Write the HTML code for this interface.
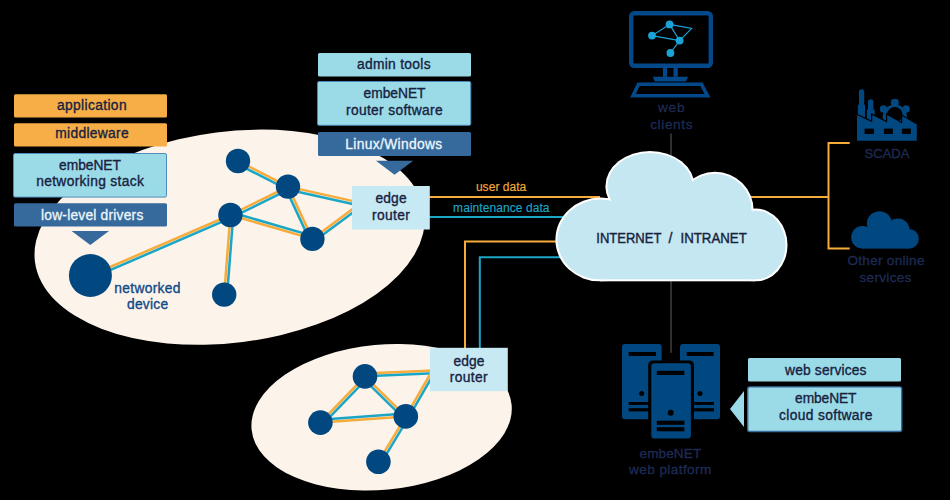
<!DOCTYPE html>
<html><head><meta charset="utf-8"><style>html,body{margin:0;padding:0;background:#000;width:950px;height:500px;overflow:hidden}svg{display:block}</style></head>
<body><svg width="950" height="500" viewBox="0 0 950 500">
<rect width="950" height="500" fill="#000"/>
<ellipse cx="229.6" cy="237.2" rx="196.2" ry="105.6" transform="rotate(-7.19 229.6 237.2)" fill="#fcf3ea"/>
<ellipse cx="381.6" cy="417.2" rx="130.6" ry="72.6" transform="rotate(-5.43 381.6 417.2)" fill="#fcf3ea"/>
<path d="M420 197 H600" stroke="#f6ab3b" stroke-width="2" fill="none"/>
<path d="M420 217 H600" stroke="#1ba6c6" stroke-width="2" fill="none"/>
<path d="M465 360 V241.5 H600" stroke="#f6ab3b" stroke-width="2" fill="none"/>
<path d="M479.8 360 V257.2 H600" stroke="#1ba6c6" stroke-width="2" fill="none"/>
<path d="M740 197 H828.5 M828.5 143 V248.6 M827.5 143 H849.7 M827.5 248.6 H849.7" stroke="#f6ab3b" stroke-width="2" fill="none"/>
<path d="M671 133.5 V352.8" stroke="#4a4a4a" stroke-width="1.3"/>
<text x="501.10" y="190.9" text-anchor="middle" textLength="50.40" lengthAdjust="spacing" font-family="'Liberation Sans', sans-serif" font-size="12" fill="#f6ab3b" stroke="#f6ab3b" stroke-width="0.15">user data</text>
<text x="501.30" y="211.8" text-anchor="middle" textLength="96.40" lengthAdjust="spacing" font-family="'Liberation Sans', sans-serif" font-size="12" fill="#1ba6c6" stroke="#1ba6c6" stroke-width="0.15">maintenance data</text>
<line x1="90.40" y1="275.50" x2="230.40" y2="215.00" stroke="#f6ab3b" stroke-width="2.5"/><line x1="91.55" y1="278.16" x2="231.55" y2="217.66" stroke="#1ba6c6" stroke-width="2.5"/>
<line x1="230.40" y1="215.00" x2="288.00" y2="186.60" stroke="#f6ab3b" stroke-width="2.5"/><line x1="231.68" y1="217.60" x2="289.28" y2="189.20" stroke="#1ba6c6" stroke-width="2.5"/>
<line x1="238.00" y1="161.00" x2="288.00" y2="186.60" stroke="#f6ab3b" stroke-width="2.5"/><line x1="236.68" y1="163.58" x2="286.68" y2="189.18" stroke="#1ba6c6" stroke-width="2.5"/>
<line x1="230.40" y1="215.00" x2="312.40" y2="238.90" stroke="#f6ab3b" stroke-width="2.5"/><line x1="231.21" y1="212.22" x2="313.21" y2="236.12" stroke="#1ba6c6" stroke-width="2.5"/>
<line x1="288.00" y1="186.60" x2="312.40" y2="238.90" stroke="#f6ab3b" stroke-width="2.5"/><line x1="285.37" y1="187.83" x2="309.77" y2="240.13" stroke="#1ba6c6" stroke-width="2.5"/>
<line x1="230.40" y1="215.00" x2="224.20" y2="294.60" stroke="#f6ab3b" stroke-width="2.5"/><line x1="233.29" y1="215.23" x2="227.09" y2="294.83" stroke="#1ba6c6" stroke-width="2.5"/>
<line x1="288.00" y1="186.60" x2="360.00" y2="202.60" stroke="#f6ab3b" stroke-width="2.5"/><line x1="287.37" y1="189.43" x2="359.37" y2="205.43" stroke="#1ba6c6" stroke-width="2.5"/>
<line x1="312.40" y1="238.90" x2="360.00" y2="203.60" stroke="#f6ab3b" stroke-width="2.5"/><line x1="314.13" y1="241.23" x2="361.73" y2="205.93" stroke="#1ba6c6" stroke-width="2.5"/>
<line x1="365.00" y1="373.40" x2="440.00" y2="370.20" stroke="#f6ab3b" stroke-width="2.5"/><line x1="365.12" y1="376.30" x2="440.12" y2="373.10" stroke="#1ba6c6" stroke-width="2.5"/>
<line x1="405.80" y1="416.40" x2="435.00" y2="366.00" stroke="#f6ab3b" stroke-width="2.5"/><line x1="408.31" y1="417.85" x2="437.51" y2="367.45" stroke="#1ba6c6" stroke-width="2.5"/>
<line x1="365.00" y1="376.40" x2="320.40" y2="422.60" stroke="#f6ab3b" stroke-width="2.5"/><line x1="367.09" y1="378.41" x2="322.49" y2="424.61" stroke="#1ba6c6" stroke-width="2.5"/>
<line x1="365.00" y1="376.40" x2="405.80" y2="416.40" stroke="#f6ab3b" stroke-width="2.5"/><line x1="362.97" y1="378.47" x2="403.77" y2="418.47" stroke="#1ba6c6" stroke-width="2.5"/>
<line x1="320.40" y1="422.60" x2="405.80" y2="416.40" stroke="#f6ab3b" stroke-width="2.5"/><line x1="320.19" y1="419.71" x2="405.59" y2="413.51" stroke="#1ba6c6" stroke-width="2.5"/>
<line x1="405.80" y1="416.40" x2="378.40" y2="461.80" stroke="#f6ab3b" stroke-width="2.5"/><line x1="408.28" y1="417.90" x2="380.88" y2="463.30" stroke="#1ba6c6" stroke-width="2.5"/>
<circle cx="238" cy="161" r="12.2" fill="#014880"/><circle cx="288" cy="186.6" r="12.2" fill="#014880"/><circle cx="230.4" cy="215" r="12.2" fill="#014880"/><circle cx="312.4" cy="238.9" r="12.2" fill="#014880"/><circle cx="224.2" cy="294.6" r="12.2" fill="#014880"/>
<circle cx="365" cy="376.4" r="12.3" fill="#014880"/><circle cx="320.4" cy="422.6" r="12.3" fill="#014880"/><circle cx="405.8" cy="416.4" r="12.3" fill="#014880"/><circle cx="378.4" cy="461.8" r="12.3" fill="#014880"/>
<circle cx="90.4" cy="275.5" r="21.5" fill="#014880"/>
<text x="147.40" y="292.7" text-anchor="middle" textLength="66.20" lengthAdjust="spacing" font-family="'Liberation Sans', sans-serif" font-size="13.8" fill="#0f4a87" stroke="#0f4a87" stroke-width="0.35">networked</text>
<text x="147.55" y="309.2" text-anchor="middle" textLength="41.10" lengthAdjust="spacing" font-family="'Liberation Sans', sans-serif" font-size="13.8" fill="#0f4a87" stroke="#0f4a87" stroke-width="0.35">device</text>
<rect x="14" y="94.2" width="153" height="23.2" rx="1.5" fill="#f8ae46"/>
<text x="91.75" y="109.6" text-anchor="middle" textLength="69.70" lengthAdjust="spacing" font-family="'Liberation Sans', sans-serif" font-size="13.8" fill="#17223f" stroke="#17223f" stroke-width="0.35">application</text>
<rect x="14" y="123.3" width="153" height="23.1" rx="1.5" fill="#f8ae46"/>
<text x="92.00" y="138" text-anchor="middle" textLength="73.40" lengthAdjust="spacing" font-family="'Liberation Sans', sans-serif" font-size="13.8" fill="#17223f" stroke="#17223f" stroke-width="0.35">middleware</text>
<rect x="13.5" y="153.5" width="153" height="43.6" rx="1.5" fill="#9bdbe8" stroke="#4f8bbb" stroke-width="1"/>
<text x="90.00" y="169.7" text-anchor="middle" textLength="61.80" lengthAdjust="spacing" font-family="'Liberation Sans', sans-serif" font-size="13.8" fill="#17223f" stroke="#17223f" stroke-width="0.35">embeNET</text>
<text x="90.00" y="186" text-anchor="middle" textLength="107.60" lengthAdjust="spacing" font-family="'Liberation Sans', sans-serif" font-size="13.8" fill="#17223f" stroke="#17223f" stroke-width="0.35">networking stack</text>
<rect x="14" y="203.2" width="153" height="23.4" rx="1.5" fill="#366a9c"/>
<text x="92.15" y="219.6" text-anchor="middle" textLength="102.30" lengthAdjust="spacing" font-family="'Liberation Sans', sans-serif" font-size="13.8" fill="#eef6fb" stroke="#eef6fb" stroke-width="0.3">low-level drivers</text>
<path d="M71.6 231 H109 L90.3 245 Z" fill="#366a9c"/>
<rect x="318" y="53" width="153" height="23.6" rx="1.5" fill="#9bdbe8"/>
<text x="393.80" y="68.7" text-anchor="middle" textLength="73.60" lengthAdjust="spacing" font-family="'Liberation Sans', sans-serif" font-size="13.8" fill="#17223f" stroke="#17223f" stroke-width="0.35">admin tools</text>
<rect x="317.5" y="81.5" width="153.3" height="43.8" rx="1.5" fill="#9bdbe8" stroke="#4a86b8" stroke-width="1"/>
<text x="394.55" y="98.4" text-anchor="middle" textLength="61.90" lengthAdjust="spacing" font-family="'Liberation Sans', sans-serif" font-size="13.8" fill="#17223f" stroke="#17223f" stroke-width="0.35">embeNET</text>
<text x="394.35" y="114.9" text-anchor="middle" textLength="96.70" lengthAdjust="spacing" font-family="'Liberation Sans', sans-serif" font-size="13.8" fill="#17223f" stroke="#17223f" stroke-width="0.35">router software</text>
<rect x="318" y="132" width="153" height="24" rx="1.5" fill="#366a9c"/>
<text x="393.75" y="148.5" text-anchor="middle" textLength="96.90" lengthAdjust="spacing" font-family="'Liberation Sans', sans-serif" font-size="13.8" fill="#eef6fb" stroke="#eef6fb" stroke-width="0.3">Linux/Windows</text>
<path d="M376 160.8 H413.2 L394.5 174.7 Z" fill="#366a9c"/>
<rect x="352" y="186" width="77.8" height="43.5" rx="0" fill="#c6e9f3"/>
<text x="391.00" y="203.1" text-anchor="middle" textLength="31.20" lengthAdjust="spacing" font-family="'Liberation Sans', sans-serif" font-size="13.8" fill="#17223f" stroke="#17223f" stroke-width="0.35">edge</text>
<text x="391.00" y="219.6" text-anchor="middle" textLength="37.80" lengthAdjust="spacing" font-family="'Liberation Sans', sans-serif" font-size="13.8" fill="#17223f" stroke="#17223f" stroke-width="0.35">router</text>
<rect x="430" y="347.8" width="77.8" height="43.3" rx="0" fill="#c6e9f3"/>
<text x="469.00" y="365.6" text-anchor="middle" textLength="30.80" lengthAdjust="spacing" font-family="'Liberation Sans', sans-serif" font-size="13.8" fill="#17223f" stroke="#17223f" stroke-width="0.35">edge</text>
<text x="468.70" y="381.5" text-anchor="middle" textLength="37.80" lengthAdjust="spacing" font-family="'Liberation Sans', sans-serif" font-size="13.8" fill="#17223f" stroke="#17223f" stroke-width="0.35">router</text>
<defs><clipPath id="cc"><rect x="0" y="0" width="950" height="279.6"/></clipPath><clipPath id="cc2"><rect x="0" y="0" width="950" height="281.6"/></clipPath></defs>
<g clip-path="url(#cc2)" fill="#fff"><ellipse cx="600.5" cy="239.6" rx="45.1" ry="42"/><ellipse cx="650" cy="186.4" rx="44.6" ry="35.4"/><circle cx="715" cy="210.3" r="38.6"/><ellipse cx="755" cy="245" rx="32.5" ry="36.6"/><rect x="600" y="215" width="155" height="66.6"/><rect x="620" y="195" width="120" height="80"/></g>
<g clip-path="url(#cc)" fill="#c4e7f1"><ellipse cx="600.5" cy="239.6" rx="43.1" ry="40"/><ellipse cx="650" cy="186.4" rx="42.6" ry="33.4"/><circle cx="715" cy="210.3" r="36.6"/><ellipse cx="755" cy="245" rx="30.5" ry="34.6"/><rect x="600" y="215" width="155" height="64.6"/><rect x="620" y="195" width="120" height="80"/></g>
<text x="628.85" y="242.7" text-anchor="middle" textLength="65.10" lengthAdjust="spacingAndGlyphs" font-family="'Liberation Sans', sans-serif" font-size="14.2" fill="#17223f" stroke="#17223f" stroke-width="0.4">INTERNET</text>
<text x="670.40" y="242.7" text-anchor="middle" textLength="6.00" lengthAdjust="spacing" font-family="'Liberation Sans', sans-serif" font-size="14.2" fill="#17223f" stroke="#17223f" stroke-width="0.35">/</text>
<text x="713.65" y="242.7" text-anchor="middle" textLength="66.30" lengthAdjust="spacingAndGlyphs" font-family="'Liberation Sans', sans-serif" font-size="14.2" fill="#17223f" stroke="#17223f" stroke-width="0.4">INTRANET</text>
<rect x="631.2" y="13.2" width="79.6" height="52.6" rx="3" fill="none" stroke="#03498a" stroke-width="4.4"/>
<path d="M665 68 V76.8 M675.6 68 V76.8" stroke="#03498a" stroke-width="4.2"/>
<path d="M652.8 76.8 H688 L686 81.6 H654.8 Z" fill="#03498a"/>
<path d="M638.5 84.2 H701.5 L707.5 95.8 H633 Z" fill="none" stroke="#03498a" stroke-width="3.6" stroke-linejoin="miter"/>
<path d="M669.6 24.4 L652 35.6 L679.6 40.6 Z M669.6 24.4 L691.6 28.4 L679.6 40.6 M679.6 40.6 L670.4 53" stroke="#1ba2d6" stroke-width="1.2" fill="none"/>
<circle cx="669.6" cy="24.4" r="3.9" fill="#1ba2d6"/><circle cx="652" cy="35.6" r="3.9" fill="#1ba2d6"/><circle cx="679.6" cy="40.6" r="3.9" fill="#1ba2d6"/><circle cx="670.4" cy="53" r="3.9" fill="#1ba2d6"/>
<text x="671.20" y="112" text-anchor="middle" textLength="26.60" lengthAdjust="spacing" font-family="'Liberation Sans', sans-serif" font-size="13.6" fill="#1e2b55" stroke="#1e2b55" stroke-width="0.3">web</text>
<text x="671.35" y="128.8" text-anchor="middle" textLength="42.30" lengthAdjust="spacing" font-family="'Liberation Sans', sans-serif" font-size="13.6" fill="#1e2b55" stroke="#1e2b55" stroke-width="0.3">clients</text>
<g fill="#014880"><rect x="859" y="89.2" width="5.2" height="30" rx="2.6"/><rect x="857.8" y="104.8" width="7.2" height="14"/><rect x="868" y="99.2" width="5.4" height="22" rx="2.7"/><rect x="866.8" y="109.6" width="7.8" height="12"/></g>
<circle cx="894.8" cy="116.8" r="12.2" fill="#014880"/><circle cx="894.8" cy="114.6" r="7.7" fill="#000"/>
<g fill="#014880"><rect x="890.8" y="99.1" width="8" height="7" rx="3"/><circle cx="883.4" cy="108.9" r="3.6"/><circle cx="906.2" cy="108.9" r="3.6"/></g>
<path d="M857 115 L872.2 122.2 V115 L887.2 122.6 V115 L902.2 123.4 V116 L916.8 124.6" fill="none" stroke="#000" stroke-width="2.4"/>
<path d="M857 115 L872.2 122.2 V115 L887.2 122.6 V115 L902.2 123.4 V116 L916.8 124.6 V140.8 H857 Z" fill="#014880"/>
<g fill="#000"><rect x="864.6" y="128.6" width="9.4" height="5.4"/><rect x="883.9" y="128.6" width="9" height="5.4"/><rect x="901.9" y="128.6" width="9" height="5.4"/></g>
<text x="887.00" y="157.8" text-anchor="middle" textLength="45.00" lengthAdjust="spacing" font-family="'Liberation Sans', sans-serif" font-size="13.2" fill="#1e2b55" stroke="#1e2b55" stroke-width="0.3">SCADA</text>
<g fill="#014880"><circle cx="879.4" cy="223.7" r="12.5"/><circle cx="898" cy="230" r="11.5"/><circle cx="862.5" cy="237.3" r="11.3"/><circle cx="909" cy="238.8" r="9.8"/><rect x="862.5" y="230" width="46.5" height="18.6"/></g>
<text x="885.95" y="265" text-anchor="middle" textLength="77.10" lengthAdjust="spacing" font-family="'Liberation Sans', sans-serif" font-size="13.6" fill="#1e2b55" stroke="#1e2b55" stroke-width="0.3">Other online</text>
<text x="885.45" y="281.9" text-anchor="middle" textLength="51.90" lengthAdjust="spacing" font-family="'Liberation Sans', sans-serif" font-size="13.6" fill="#1e2b55" stroke="#1e2b55" stroke-width="0.3">services</text>
<rect x="622" y="344" width="39.6" height="75.3" rx="3" fill="#014880"/>
<rect x="680" y="344" width="40" height="75.3" rx="3" fill="#014880"/>
<g fill="#000"><rect x="628.7" y="352" width="27.3" height="4"/><rect x="686.7" y="352" width="27" height="4"/><circle cx="641.7" cy="393.6" r="2.5"/><circle cx="700" cy="393.6" r="2.5"/><rect x="628.7" y="402" width="22" height="2.9"/><rect x="628.7" y="408.2" width="22" height="3.2"/><rect x="690" y="402" width="24" height="2.9"/><rect x="690" y="408.2" width="24" height="3.2"/></g>
<rect x="648.2" y="360.4" width="45.8" height="81" rx="4.5" fill="#000"/>
<rect x="651.3" y="363.2" width="39.6" height="75.3" rx="3" fill="#014880"/>
<g fill="#000"><rect x="656.8" y="370.8" width="27.6" height="4.2"/><circle cx="670.7" cy="412.8" r="3"/><rect x="656.8" y="420.7" width="27.6" height="4.1"/><rect x="656.8" y="427.2" width="27.6" height="4.1"/></g>
<text x="670.35" y="457.8" text-anchor="middle" textLength="61.70" lengthAdjust="spacing" font-family="'Liberation Sans', sans-serif" font-size="13.6" fill="#1e2b55" stroke="#1e2b55" stroke-width="0.3">embeNET</text>
<text x="670.20" y="474.3" text-anchor="middle" textLength="82.20" lengthAdjust="spacing" font-family="'Liberation Sans', sans-serif" font-size="13.6" fill="#1e2b55" stroke="#1e2b55" stroke-width="0.3">web platform</text>
<rect x="748" y="358" width="153" height="23.6" rx="1.5" fill="#9bdbe8"/>
<text x="825.80" y="374.6" text-anchor="middle" textLength="81.40" lengthAdjust="spacing" font-family="'Liberation Sans', sans-serif" font-size="13.8" fill="#17223f" stroke="#17223f" stroke-width="0.35">web services</text>
<rect x="747.7" y="386.9" width="154" height="44.6" rx="2" fill="#9bdbe8" stroke="#386c9c" stroke-width="1.4"/>
<text x="825.80" y="403" text-anchor="middle" textLength="61.40" lengthAdjust="spacing" font-family="'Liberation Sans', sans-serif" font-size="13.8" fill="#17223f" stroke="#17223f" stroke-width="0.35">embeNET</text>
<text x="825.80" y="420" text-anchor="middle" textLength="93.40" lengthAdjust="spacing" font-family="'Liberation Sans', sans-serif" font-size="13.8" fill="#17223f" stroke="#17223f" stroke-width="0.35">cloud software</text>
<path d="M744 391 V427 L730 409 Z" fill="#9bdbe8"/>
</svg></body></html>
